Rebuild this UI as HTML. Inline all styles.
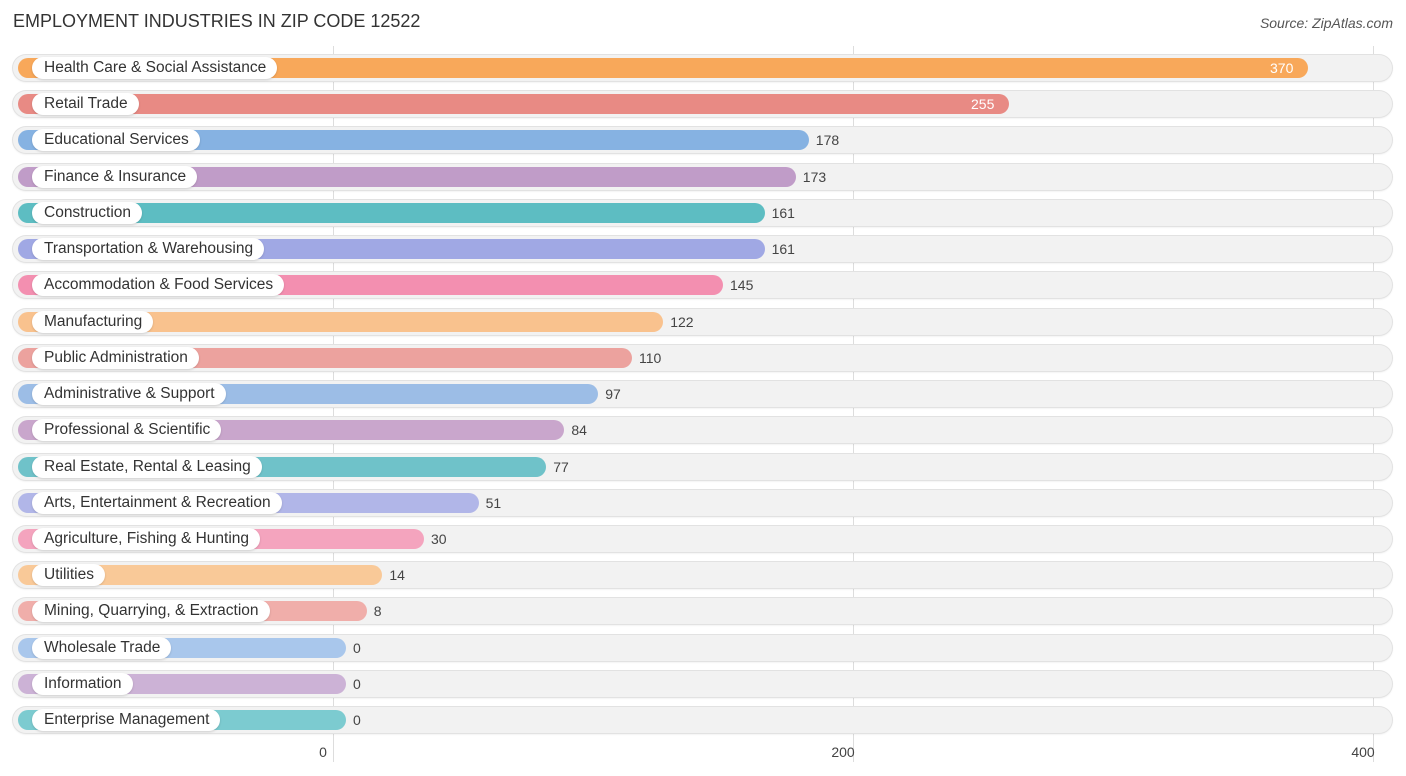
<!DOCTYPE html>
<html><head><meta charset="utf-8"><style>
body{margin:0;width:1406px;height:776px;background:#fff;font-family:"Liberation Sans",sans-serif;position:relative;overflow:hidden}
.t{position:absolute;left:13px;top:11px;font-size:18px;color:#333}
.s{position:absolute;right:13px;top:15px;font-size:14px;color:#555;font-style:italic}
.grid{position:absolute;top:46px;width:1px;height:716px;background:#ddd}
.tick{position:absolute;top:744px;font-size:14px;color:#444;transform:translateX(-50%)}
.row{position:absolute;left:13px;width:1379px;height:26px;border-radius:13px;background:#f2f2f2;box-shadow:0 0 0 1px #e2e2e2,0 1px 2px rgba(0,0,0,.12)}
.bar{position:absolute;left:18px;height:20px;border-radius:10px}
.lab{position:absolute;left:32px;height:22px;line-height:22px;padding:0 11px 0 12px;border-radius:11px;background:#fff;font-size:15.5px;color:#333;white-space:nowrap;box-shadow:0 1px 2px rgba(0,0,0,.15)}
.val{position:absolute;font-size:14px;color:#444}
.vin{color:#fff}
</style></head><body>
<div class="t">EMPLOYMENT INDUSTRIES IN ZIP CODE 12522</div>
<div class="s">Source: ZipAtlas.com</div>
<div id="c"></div>
<script>
const categories=["Health Care & Social Assistance","Retail Trade","Educational Services","Finance & Insurance","Construction","Transportation & Warehousing","Accommodation & Food Services","Manufacturing","Public Administration","Administrative & Support","Professional & Scientific","Real Estate, Rental & Leasing","Arts, Entertainment & Recreation","Agriculture, Fishing & Hunting","Utilities","Mining, Quarrying, & Extraction","Wholesale Trade","Information","Enterprise Management"];
const values=[370,255,178,173,161,161,145,122,110,97,84,77,51,30,14,8,0,0,0];
const colors=["#f8a85a","#e88a84","#86b2e2","#c09cc8","#5dbdc2","#a0a8e4","#f38fb0","#f9c28e","#eca29e","#9cbde6","#c9a6cc","#6fc2c9","#b1b6e8","#f4a4be","#f9c998","#f0aeaa","#a9c7ec","#ccb2d6","#7ccbd0"];
const ticks=[0,200,400];
const x0=333,ppu=2.6;
const X=v=>x0+v*ppu;
const c=document.getElementById('c');
ticks.forEach(t=>{
 const g=document.createElement('div');g.className='grid';g.style.left=X(t)+'px';
 
 
 c.appendChild(g);
 const l=document.createElement('div');l.className='tick';l.style.left=(X(t)-10)+'px';l.textContent=t;
 
 
 c.appendChild(l);
});
categories.forEach((cat,i)=>{
 const cy=68+i*36.23;
 const r=document.createElement('div');r.className='row';r.style.top=(cy-13)+'px';
 
 
 c.appendChild(r);
 const b=document.createElement('div');b.className='bar';b.style.top=(cy-10)+'px';
 const end=X(values[i])+13;
 b.style.width=(end-18)+'px';b.style.background=colors[i];
 
 
 c.appendChild(b);
 const l=document.createElement('div');l.className='lab';l.style.top=(cy-11)+'px';l.textContent=cat;
 
 
 c.appendChild(l);
 const v=document.createElement('div');v.className='val';v.textContent=values[i];v.style.top=(cy-8)+'px';
 if(values[i]>=200){v.classList.add('vin');v.style.left=(end-38)+'px';}else{v.style.left=(end+7)+'px';}
 
 
 c.appendChild(v);
});
</script>
</body></html>
